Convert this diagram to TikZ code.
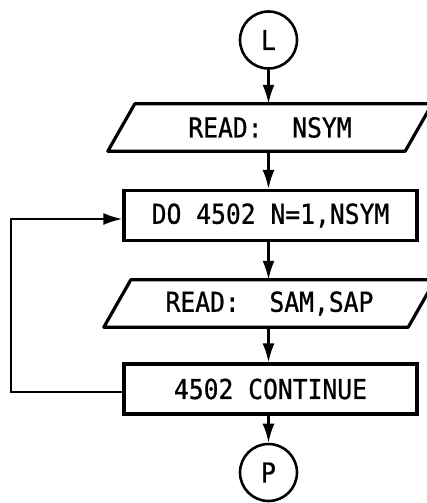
\documentclass[tikz,border=0pt]{standalone}
\usepackage{fontspec}
\newfontfamily\flowfont[FakeStretch=0.9,FakeBold=0.8]{DejaVu Sans Mono}
\usetikzlibrary{arrows.meta}

\begin{document}
\begin{tikzpicture}[x=1pt,y=-1pt,
  every node/.style={font=\flowfont\fontsize{27.4}{30}\selectfont, inner sep=0pt},
  conn/.style={line width=2.3pt, -{Latex[length=19pt,width=12pt]}},
  procbox/.style={draw, line width=3.2pt, minimum width=293pt, minimum height=50pt},
  iobox/.style={minimum width=324pt, minimum height=47pt},
  ioline/.style={line width=3.2pt, line join=round},
  joint/.style={draw, circle, line width=2.6pt, minimum size=57pt}
]
\useasboundingbox (0,0) rectangle (427,503);
\clip (0,0) rectangle (427,503);

% flowchart blocks
\node[joint] (L) at (268.5,40) {L};
\node[iobox] (read1) at (270,127.5) {READ:\ \ NSYM};
\node[procbox] (do) at (270.5,215.5) {DO 4502 N=1,NSYM};
\node[iobox, minimum width=331pt] (read2) at (269.5,303.5) {READ:\ \ SAM,SAP};
\node[procbox] (cont) at (270.5,389) {4502 CONTINUE};
\node[joint] (P) at (268.5,472.5) {P};

% input/output parallelograms
\foreach \n in {read1,read2}{
  \draw[ioline] (\n.south west) -- ([xshift=27pt]\n.north west)
    -- (\n.north east) -- ([xshift=-27pt]\n.south east) -- cycle;
}

% main flow
\draw[conn] (L) -- (L |- read1.north);
\draw[conn] (L |- read1.south) -- (L |- do.north);
\draw[conn] (L |- do.south) -- (L |- read2.north);
\draw[conn] (L |- read2.south) -- (L |- cont.north);
\draw[conn] (L |- cont.south) -- (P);

% loop back to the DO statement
\coordinate (loopx) at (11,0);
\draw[conn] ([yshift=-3pt]cont.west) -- ([yshift=-3pt]cont.west -| loopx)
  -- ([yshift=-3.5pt]do.west -| loopx) -- ([yshift=-3.5pt]do.west);
\end{tikzpicture}
\end{document}
